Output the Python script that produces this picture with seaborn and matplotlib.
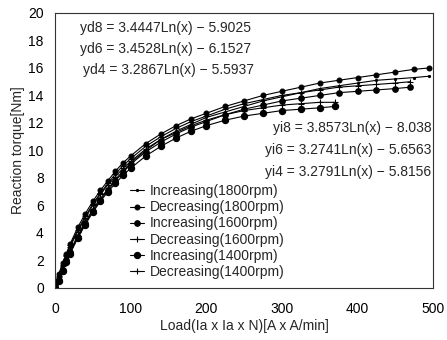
import numpy as np
import pandas as pd
import matplotlib
matplotlib.use('Agg')
import matplotlib.pyplot as plt
import seaborn as sns

# Loads
x1800 = [0, 5, 10, 15, 20, 30, 40, 50, 60, 70, 80, 90, 100, 120, 140, 160, 180, 200,
         225, 250, 275, 300, 325, 350, 375, 400, 425, 450, 475, 495]
x1600 = [0, 5, 10, 15, 20, 30, 40, 50, 60, 70, 80, 90, 100, 120, 140, 160, 180, 200,
         225, 250, 275, 300, 325, 350, 375, 400, 425, 450, 470]
x1400 = [0, 5, 10, 15, 20, 30, 40, 50, 60, 70, 80, 90, 100, 120, 140, 160, 180, 200,
         225, 250, 275, 300, 325, 350, 370]

# Reaction torque [Nm]
inc1800 = [0.1, 0.7, 1.4, 2.1, 2.7, 3.8, 4.8, 5.7, 6.5, 7.2, 7.9, 8.5, 9.1, 10.0, 10.8,
           11.4, 11.9, 12.4, 12.8, 13.2, 13.6, 13.9, 14.2, 14.5, 14.7, 14.9, 15.1, 15.2,
           15.3, 15.4]
dec1800 = [0.3, 1.0, 1.8, 2.5, 3.2, 4.4, 5.4, 6.3, 7.1, 7.8, 8.5, 9.1, 9.6, 10.5, 11.2,
           11.8, 12.3, 12.7, 13.2, 13.6, 14.0, 14.3, 14.6, 14.9, 15.1, 15.3, 15.5, 15.7,
           15.9, 16.0]
inc1600 = [0.1, 0.6, 1.3, 2.0, 2.6, 3.7, 4.7, 5.6, 6.4, 7.1, 7.8, 8.4, 9.0, 9.9, 10.6,
           11.2, 11.7, 12.1, 12.6, 13.0, 13.3, 13.6, 13.8, 14.0, 14.2, 14.3, 14.4, 14.5,
           14.6]
dec1600 = [0.2, 0.9, 1.7, 2.4, 3.1, 4.2, 5.2, 6.1, 6.9, 7.6, 8.3, 8.9, 9.4, 10.3, 11.0,
           11.6, 12.1, 12.5, 13.0, 13.4, 13.7, 14.0, 14.2, 14.4, 14.6, 14.7, 14.8, 14.9,
           15.0]
inc1400 = [0.0, 0.5, 1.2, 1.9, 2.5, 3.6, 4.6, 5.5, 6.3, 7.0, 7.6, 8.2, 8.7, 9.6, 10.3,
           10.9, 11.4, 11.8, 12.2, 12.5, 12.7, 12.9, 13.0, 13.1, 13.2]
dec1400 = [0.2, 0.8, 1.6, 2.3, 3.0, 4.1, 5.1, 6.0, 6.8, 7.5, 8.1, 8.7, 9.2, 10.1, 10.8,
           11.3, 11.8, 12.2, 12.6, 12.9, 13.1, 13.3, 13.4, 13.5, 13.5]

labels = ['Increasing(1800rpm)', 'Decreasing(1800rpm)', 'Increasing(1600rpm)',
          'Decreasing(1600rpm)', 'Increasing(1400rpm)', 'Decreasing(1400rpm)']
eq_d = ['yd8 = 3.4447Ln(x) \u2212 5.9025', 'yd6 = 3.4528Ln(x) \u2212 6.1527',
        'yd4 = 3.2867Ln(x) \u2212 5.5937']
eq_i = ['yi8 = 3.8573Ln(x) \u2212 8.038', 'yi6 = 3.2741Ln(x) \u2212 5.6563',
        'yi4 = 3.2791Ln(x) \u2212 5.8156']

xs = [x1800, x1800, x1600, x1600, x1400, x1400]
ys = [inc1800, dec1800, inc1600, dec1600, inc1400, dec1400]
df = pd.concat([pd.DataFrame({'load': x, 'torque': y, 'series': lab})
                for x, y, lab in zip(xs, ys, labels)], ignore_index=True)

sns.set_style('white')
plt.rcParams['font.family'] = ['Liberation Sans', 'DejaVu Sans']

fig = plt.figure(figsize=(4.47, 3.40), dpi=100)
ax = fig.add_axes([0.123, 0.153, 0.846, 0.809])

mk = dict(zip(labels, ['.', 'o', 'o', '+', 'o', '+']))
ms = dict(zip(labels, [3, 3.5, 4, 4, 4.5, 4]))
for lab in labels:
    sns.lineplot(data=df[df['series'] == lab], x='load', y='torque', ax=ax,
                 color='black', marker=mk[lab], markersize=ms[lab], linewidth=0.8,
                 markeredgecolor='black', markeredgewidth=0.8, label=lab,
                 sort=False, estimator=None)

ax.set_xlim(0, 500)
ax.set_ylim(0, 20)
ax.set_xticks(range(0, 501, 100))
ax.set_yticks(range(0, 21, 2))
ax.tick_params(direction='in', length=2, width=0.5, colors='#555555', labelcolor='black',
               labelsize=10)
ax.tick_params(axis='x', pad=10)
ax.tick_params(axis='y', pad=8)
for s in ax.spines.values():
    s.set_color('#333333')
    s.set_linewidth(0.8)

ax.set_xlabel('Load(Ia x Ia x N)[A x A/min]', fontsize=10, labelpad=2)
ax.set_ylabel('Reaction torque[Nm]', fontsize=10, labelpad=2)

for i, t in enumerate(eq_d):
    ax.text(0.065 if i < 2 else 0.075, 0.945 - i * 0.076, t, transform=ax.transAxes,
            fontsize=10, va='center', ha='left')
for i, t in enumerate(eq_i):
    ax.text(0.995, 0.582 - i * 0.08, t, transform=ax.transAxes,
            fontsize=10, va='center', ha='right')

leg = ax.legend(loc='upper left', bbox_to_anchor=(0.291, 0.458),
                bbox_transform=fig.transFigure, frameon=False, fontsize=10,
                handlelength=1.0, handletextpad=0.4, labelspacing=0.15,
                borderpad=0, borderaxespad=0)

fig.savefig('out.png', dpi=100)
